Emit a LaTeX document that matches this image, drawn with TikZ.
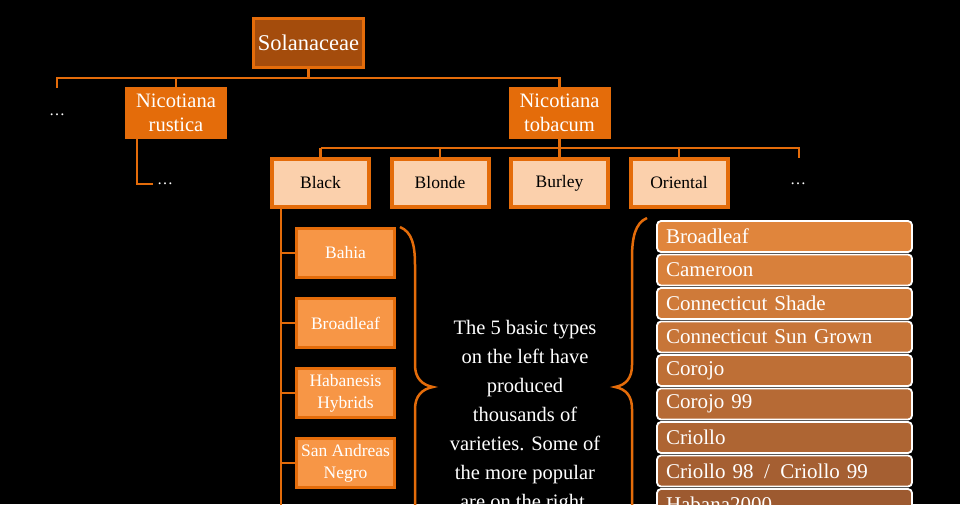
\documentclass[tikz,border=0pt]{standalone}
\usepackage{fontspec}
\setmainfont{Liberation Serif}
\usepackage{tikz}
\definecolor{colo}{HTML}{E46C0A}
\definecolor{cold}{HTML}{A44C0C}
\definecolor{colp}{HTML}{FBD0AC}
\definecolor{colv}{HTML}{F79646}
\definecolor{colt}{HTML}{E0853C}
\definecolor{colb}{HTML}{9A5830}

\begin{document}
\begin{tikzpicture}[x=1pt, y=-1pt]
    \tikzstyle{fam} += [draw=colo, fill=cold, line width=3pt, minimum width=110pt, minimum height=49pt, text=white, font=\fontsize{22.5}{26}\selectfont];
    \tikzstyle{spc} += [fill=colo, minimum width=102pt, minimum height=52pt, text=white, align=center, inner sep=0pt, font=\fontsize{20.5}{24}\selectfont];
    \tikzstyle{typ} += [draw=colo, fill=colp, line width=4pt, minimum width=97pt, minimum height=48pt, text=black, font=\fontsize{17.5}{20}\selectfont];
    \tikzstyle{var} += [draw=colo, fill=colv, line width=2.5pt, minimum width=98pt, minimum height=49pt, text=white, align=center, inner sep=0pt, font=\fontsize{17.5}{22}\selectfont];
    \tikzstyle{lst} += [draw=white, line width=1.8pt, rounded corners=4pt, minimum height=31pt, text width=237pt, inner xsep=9pt, align=left, text=white, font=\fontsize{21}{22}\selectfont];
    \tikzstyle{dts} += [text=white, inner sep=0pt, font=\fontsize{16}{18}\selectfont];
    \tikzstyle{lnk} += [draw=colo, line width=2.5pt];
    \tikzstyle{brc} += [draw=colo, line width=2.5pt];

    \useasboundingbox (0,0) rectangle (960,504);
    \clip (0,0) rectangle (960,504);
    \fill[black] (0,0) rectangle (960,504);

    % family and species
    \node (sol) at (308.5, 43) [fam]{Solanaceae};
    \node (rus) at (176, 113) [spc]{Nicotiana\\rustica};
    \node (tob) at (559.5, 113) [spc]{Nicotiana\\tobacum};
    \node (ldt) at (57, 115) [dts]{\dots};
    \node (rdt) at (165, 184) [dts]{\dots};

    % basic types
    \node (blk) at (320.5, 183) [typ]{Black};
    \node (bln) at (440, 183) [typ]{Blonde};
    \node (bur) at (559.5, 183) [typ]{Burley};
    \node (ori) at (679, 183) [typ]{Oriental};
    \node (tdt) at (798, 184) [dts]{\dots};

    % black varieties
    \node (bah) at (345.5, 253) [var]{Bahia};
    \node (brd) at (345.5, 323) [var]{Broadleaf};
    \node (hab) at (345.5, 393) [var]{Habanesis\\Hybrids};
    \node (san) at (345.5, 463) [var]{San Andreas\\Negro};

    % popular varieties
    \node (v1) at (784.5, 236.5) [lst, fill=colt]{Broadleaf};
    \node (v2) at (784.5, 270) [lst, fill=colt!88!colb]{Cameroon};
    \node (v3) at (784.5, 303.5) [lst, fill=colt!76!colb]{Connecticut Shade};
    \node (v4) at (784.5, 337) [lst, fill=colt!64!colb]{Connecticut Sun Grown};
    \node (v5) at (784.5, 370.5) [lst, fill=colt!52!colb]{Corojo};
    \node (v6) at (784.5, 404) [lst, fill=colt!40!colb]{Corojo 99};
    \node (v7) at (784.5, 437.5) [lst, fill=colt!28!colb]{Criollo};
    \node (v8) at (784.5, 471) [lst, fill=colt!16!colb]{Criollo 98 \,/\, Criollo 99};
    \node (v9) at (784.5, 504.5) [lst, fill=colt!4!colb]{Habana2000};

    \node (txt) at (525, 508) [anchor=base, text=white, align=center, inner sep=0pt, font=\fontsize{20.5}{29}\selectfont]{The 5 basic types\\on the left have\\produced\\thousands of\\varieties. Some of\\the more popular\\are on the right.};

    \coordinate (top) at (308.5, 78);
    \coordinate (lft) at (57, 88);
    \coordinate (rl) at (137, 183);
    \coordinate (tj) at (559.5, 148);
    \coordinate (tnd) at (799, 158);
    \coordinate (bv) at (281, 520);

    \begin{scope}[lnk]
      \draw (sol.south) -- (top);
      \draw (top) -| (lft);
      \draw (top) -| (rus.north);
      \draw (top) -| (tob.north);
      \draw (rus.south west -| rl) |- ([xshift=-4pt]rdt.west);
      \draw (tob.south) -- (tj);
      \draw (tj -| blk.north) -| (tnd);
      \draw (tj -| blk.north) -- (blk.north);
      \draw (tj -| bln.north) -- (bln.north);
      \draw (tj -| ori.north) -- (ori.north);
      \draw (tj) -- (bur.north);
      \draw (blk.south -| bv) -- (bv);
      \draw (bah.west -| bv) -- (bah.west);
      \draw (brd.west -| bv) -- (brd.west);
      \draw (hab.west -| bv) -- (hab.west);
      \draw (san.west -| bv) -- (san.west);
    \end{scope}

    % braces
    \draw[brc] (400,227) .. controls (412,232) and (415,245) .. (415,265) -- (415,365)
      .. controls (415,378) and (422,385) .. (433,387)
      .. controls (422,389) and (415,396) .. (415,409) -- (415,520);
    \draw[brc] (647,218) .. controls (635,223) and (632,238) .. (632,258) -- (632,365)
      .. controls (632,378) and (626,385) .. (615,387)
      .. controls (626,389) and (632,396) .. (632,409) -- (632,520);
  \end{tikzpicture}
\end{document}
